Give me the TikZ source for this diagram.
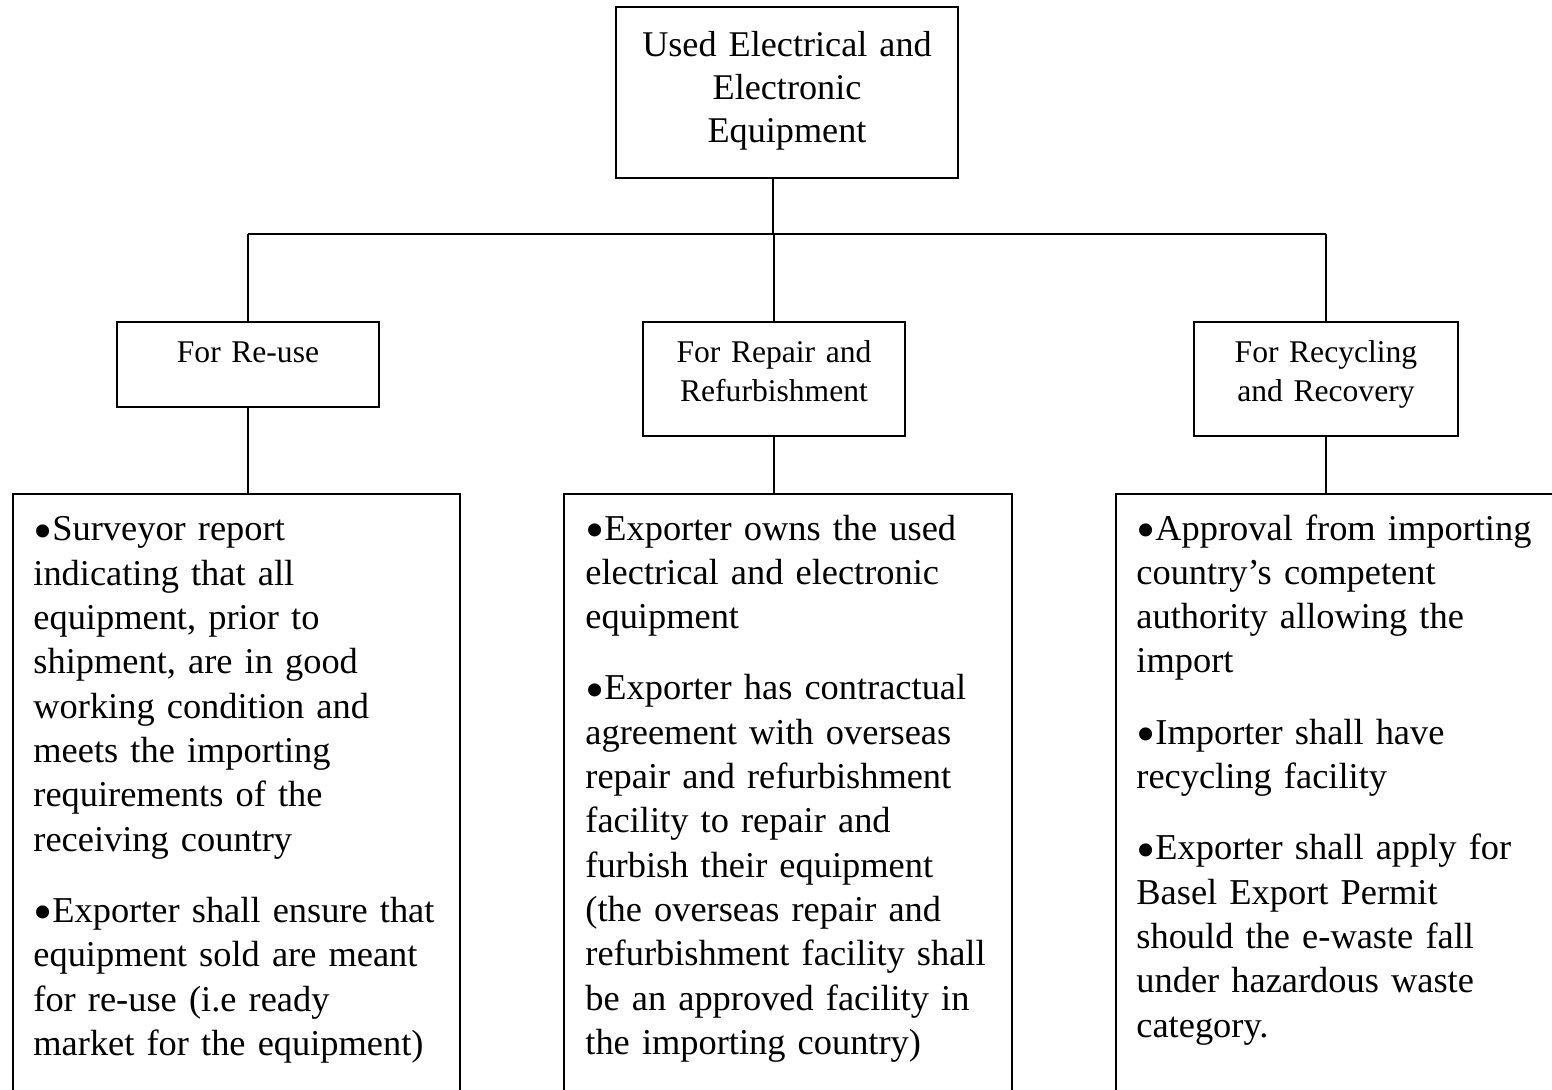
\documentclass[tikz,border=0pt]{standalone}
\usepackage{fontspec}
\setmainfont{Liberation Serif}
\newcommand{\bul}{\makebox[9.5pt][l]{\raisebox{-4.3pt}{\scalebox{1.5}{•}}}}
\begin{document}
\begin{tikzpicture}[x=0.5pt,y=-0.5pt,
  box/.style={draw,line width=0.9pt,inner sep=0pt},
  conn/.style={line width=0.9pt},
  toptxt/.style={font=\fontsize{18.1pt}{21.5pt}\selectfont,text width=171pt,align=center,anchor=base,inner sep=0pt},
  midtxt/.style={font=\fontsize{15.8pt}{19.5pt}\selectfont,text width=131pt,align=center,anchor=base,inner sep=0pt},
  body/.style={font=\fontsize{18.2pt}{22.15pt}\selectfont,text width=225pt,align=left,anchor=base west,inner sep=0pt}]
\clip (0,0) rectangle (1552,1090);
% top box
\node[box,minimum width=171pt,minimum height=85.5pt] (top) at (787,92.5) {};
\node[toptxt] (toptext) at (787,57) {Used Electrical and\\Electronic\\Equipment};
% middle boxes
\node[box,minimum width=131pt,minimum height=42.5pt] (m1) at (248,364.5) {};
\node[box,minimum width=131pt,minimum height=57pt] (m2) at (774,379) {};
\node[box,minimum width=132pt,minimum height=57pt] (m3) at (1326,379) {};
\node[midtxt] (m1t) at (248,363) {For Re-use};
\node[midtxt] (m2t) at (774,363) {For Repair and\\Refurbishment};
\node[midtxt] (m3t) at (1326,363) {For Recycling\\and Recovery};
% lower boxes
\node[box,anchor=north west,minimum width=223.5pt,minimum height=350pt] (l1) at (12,493) {};
\node[box,anchor=north west,minimum width=224pt,minimum height=350pt] (l2) at (563,493) {};
\node[box,anchor=north west,minimum width=224pt,minimum height=350pt] (l3) at (1115,493) {};
\node[body] (l1t) at (33,541) {\bul Surveyor report\\
indicating that all\\
equipment, prior to\\
shipment, are in good\\
working condition and\\
meets the importing\\
requirements of the\\
receiving country\\[13.5pt]
\bul Exporter shall ensure that\\
equipment sold are meant\\
for re-use (i.e ready\\
market for the equipment)};
\node[body] (l2t) at (585,540) {\bul Exporter owns the used\\
electrical and electronic\\
equipment\\[13.5pt]
\bul Exporter has contractual\\
agreement with overseas\\
repair and refurbishment\\
facility to repair and\\
furbish their equipment\\
(the overseas repair and\\
refurbishment facility shall\\
be an approved facility in\\
the importing country)};
\node[body] (l3t) at (1136,540) {\bul Approval from importing\\
country’s competent\\
authority allowing the\\
import\\[13.5pt]
\bul Importer shall have\\
recycling facility\\[13.5pt]
\bul Exporter shall apply for\\
Basel Export Permit\\
should the e-waste fall\\
under hazardous waste\\
category.};
% connectors
\coordinate (hub) at (773,234);
\draw[conn] (top.south -| hub) -- (hub);
\draw[conn] (m1.north |- hub) -- (m3.north |- hub);
\draw[conn] (m1.north |- hub) -- (m1.north);
\draw[conn] (m2.north |- hub) -- (m2.north);
\draw[conn] (m3.north |- hub) -- (m3.north);
\draw[conn] (m1.south) -- (l1.north -| m1.south);
\draw[conn] (m2.south) -- (l2.north -| m2.south);
\draw[conn] (m3.south) -- (l3.north -| m3.south);
\end{tikzpicture}
\end{document}
